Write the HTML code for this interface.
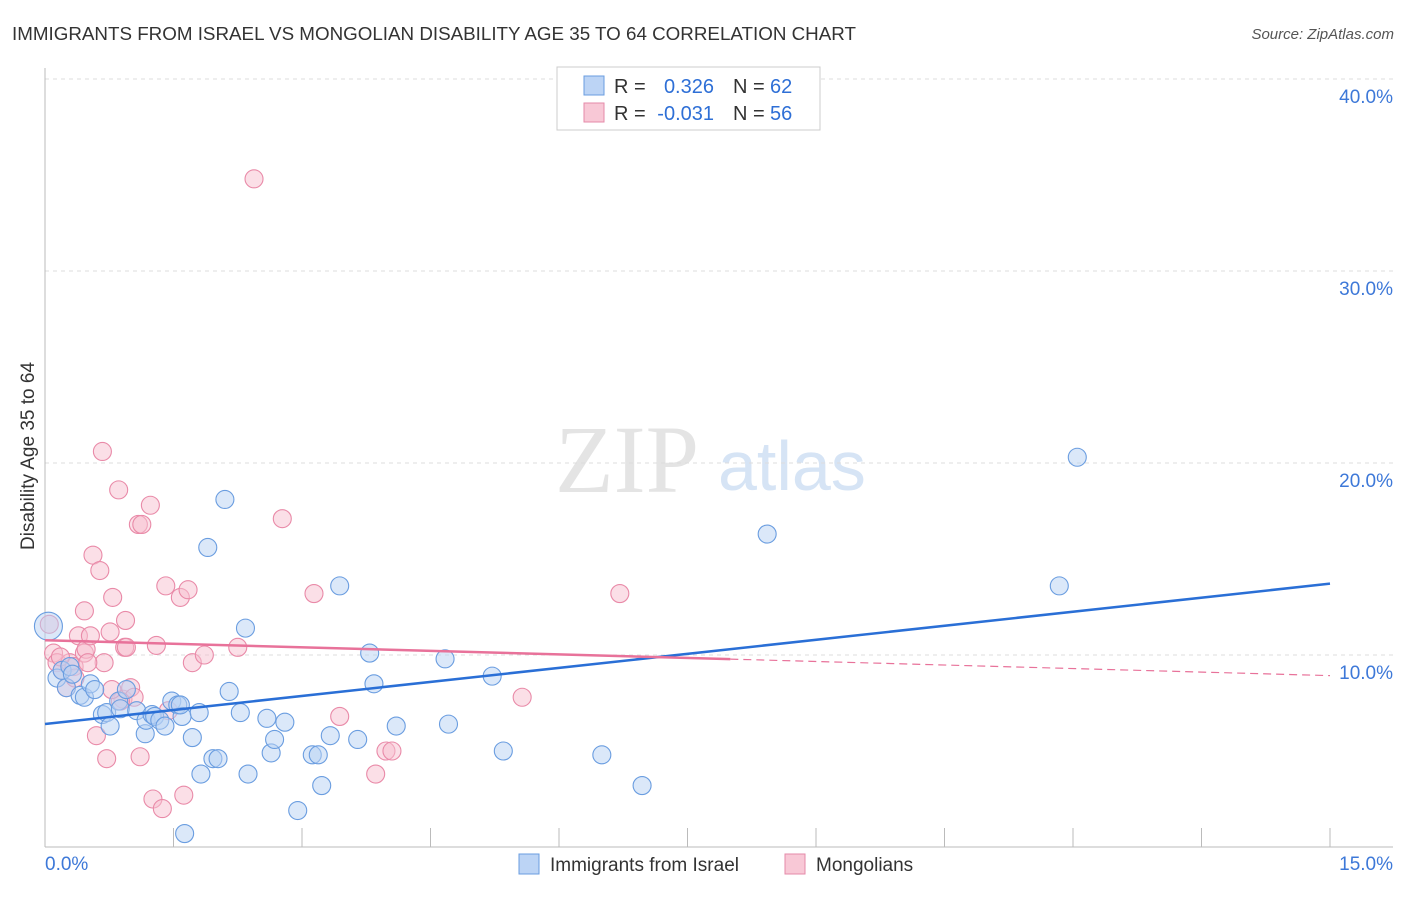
<!DOCTYPE html>
<html><head><meta charset="utf-8"><style>
body{margin:0;background:#fff;font-family:"Liberation Sans",sans-serif}
</style></head><body>
<svg id="c" width="1406" height="892" xmlns="http://www.w3.org/2000/svg">
<text x="12" y="40" font-size="18.8" fill="#333">IMMIGRANTS FROM ISRAEL VS MONGOLIAN DISABILITY AGE 35 TO 64 CORRELATION CHART</text>
<text x="1394" y="39" font-size="15" fill="#555" font-style="italic" text-anchor="end">Source: ZipAtlas.com</text>
<text x="0" y="0" transform="translate(34,456) rotate(-90)" font-size="19" fill="#333" text-anchor="middle">Disability Age 35 to 64</text>
<text x="555" y="492" font-size="96" fill="#e4e4e4" font-family="Liberation Serif,serif">ZIP</text>
<text x="718" y="490" font-size="70" fill="#d6e4f5">atlas</text>
<g id="grid"></g><g id="pts"></g><g id="lines"></g>
<g>
<rect x="557" y="67" width="263" height="63" fill="#fff" stroke="#ccc"/>
<rect x="584" y="76" width="20" height="19" fill="#bcd4f5" stroke="#6a9de0"/>
<text x="614" y="93" font-size="20" fill="#333">R =</text>
<text x="714" y="93" font-size="20" fill="#2e6fd6" text-anchor="end">0.326</text>
<text x="733" y="93" font-size="20" fill="#333">N =</text>
<text x="770" y="93" font-size="20" fill="#2e6fd6">62</text>
<rect x="584" y="103" width="20" height="19" fill="#f8c8d6" stroke="#e58aa8"/>
<text x="614" y="120" font-size="20" fill="#333">R =</text>
<text x="714" y="120" font-size="20" fill="#2e6fd6" text-anchor="end">-0.031</text>
<text x="733" y="120" font-size="20" fill="#333">N =</text>
<text x="770" y="120" font-size="20" fill="#2e6fd6">56</text>
</g>
<g>
<rect x="519" y="854" width="20" height="20" fill="#bcd4f5" stroke="#6a9de0"/>
<text x="550" y="871" font-size="19" fill="#333">Immigrants from Israel</text>
<rect x="785" y="854" width="20" height="20" fill="#f8c8d6" stroke="#e58aa8"/>
<text x="816" y="871" font-size="19" fill="#333">Mongolians</text>
</g>
</svg>
<script>
const yTicks=[10,20,30,40];
const xTickLabels=["0.0%","15.0%"];
const blueX=[0.04,0.14,0.2,0.25,0.29,0.32,0.41,0.46,0.53,0.58,0.67,0.72,0.76,0.86,0.88,0.95,1.07,1.17,1.18,1.25,1.28,1.34,1.4,1.48,1.55,1.6,1.72,1.8,1.82,1.9,1.96,2.02,2.1,2.15,2.28,2.34,2.37,2.59,2.64,2.68,2.8,2.95,3.12,3.19,3.23,3.33,3.44,3.65,3.79,3.84,4.1,4.67,4.71,5.22,5.35,6.5,6.97,8.43,11.84,12.05,1.63,1.58];
const blueY=[11.5,8.8,9.2,8.3,9.4,9.0,7.9,7.8,8.5,8.2,6.9,7.0,6.3,7.6,7.2,8.2,7.1,5.9,6.6,6.9,6.8,6.6,6.3,7.6,7.4,6.8,5.7,7.0,3.8,15.6,4.6,4.6,18.1,8.1,7.0,11.4,3.8,6.7,4.9,5.6,6.5,1.9,4.8,4.8,3.2,5.8,13.6,5.6,10.1,8.5,6.3,9.8,6.4,8.9,5.0,4.8,3.2,16.3,13.6,20.3,0.7,7.4];
const pinkX=[0.1,0.14,0.2,0.25,0.29,0.34,0.39,0.46,0.48,0.53,0.46,0.56,0.64,0.6,0.67,0.69,0.72,0.76,0.79,0.86,0.91,0.93,0.94,0.95,1.0,1.04,1.09,1.13,1.11,1.23,1.26,1.3,1.37,1.41,1.44,1.58,1.62,1.67,1.72,1.86,2.25,2.44,2.77,3.14,3.44,3.86,3.98,4.05,5.57,6.71,0.88,0.18,0.35,0.5,0.78,0.05];
const pinkY=[10.1,9.6,9.2,8.3,9.6,9.4,11.0,10.1,10.3,11.0,12.3,15.2,14.4,5.8,20.6,9.6,4.6,11.2,13.0,18.6,7.7,10.4,11.8,10.4,8.3,7.8,16.8,16.8,4.7,17.8,2.5,10.5,2.0,13.6,7.1,13.0,2.7,13.4,9.6,10.0,10.4,34.8,17.1,13.2,6.8,3.8,5.0,5.0,7.8,13.2,7.6,9.9,8.8,9.6,8.2,11.6];
const NS="http://www.w3.org/2000/svg";
const X=v=>45+v/15*1285, Y=v=>847-v*19.2;
function mk(t,a,p){const e=document.createElementNS(NS,t);for(const k in a)e.setAttribute(k,a[k]);document.getElementById(p).appendChild(e);return e;}
yTicks.forEach(t=>{
 const l=mk('line',{x1:45,x2:1393,y1:Y(t),y2:Y(t),stroke:'#ddd','stroke-dasharray':'4,4'},'grid');
 
 
 const tx=mk('text',{x:1393,y:Y(t)+24,'font-size':19,fill:'#3d78d8','text-anchor':'end'},'grid');tx.textContent=t.toFixed(1)+'%';
 
 
});
mk('line',{x1:45,x2:45,y1:68,y2:847,stroke:'#bbb'},'grid');
mk('line',{x1:45,x2:1393,y1:847,y2:847,stroke:'#bbb'},'grid');
for(let i=1;i<=10;i++){mk('line',{x1:X(i*1.5),x2:X(i*1.5),y1:828,y2:847,stroke:'#bbb'},'grid');}
const xl=mk('text',{x:45,y:870,'font-size':19,fill:'#3d78d8'},'grid');xl.textContent=xTickLabels[0];


const xr=mk('text',{x:1393,y:870,'font-size':19,fill:'#3d78d8','text-anchor':'end'},'grid');xr.textContent=xTickLabels[1];


function dots(xs,ys,fill,stroke,name){xs.forEach((x,i)=>{
 const r=i===0&&name==='blue-point'?14:9;
 const c=mk('circle',{cx:X(x),cy:Y(ys[i]),r:r,fill:fill,'fill-opacity':0.5,stroke:stroke,'stroke-width':1.1},'pts');
 
 
});}
dots(pinkX,pinkY,'#f8c0d0','#e98aa8','pink-point');
dots(blueX,blueY,'#b8d2f4','#6a9de0','blue-point');
function fit(xs,ys){const n=xs.length,mx=xs.reduce((a,b)=>a+b)/n,my=ys.reduce((a,b)=>a+b)/n;let sxy=0,sxx=0;xs.forEach((x,i)=>{sxy+=(x-mx)*(ys[i]-my);sxx+=(x-mx)**2});const b=sxy/sxx;return [my-b*mx,b];}
const bf=fit(blueX,blueY), pf=fit(pinkX,pinkY);
const bl=mk('line',{x1:X(0),y1:Y(bf[0]),x2:X(15),y2:Y(bf[0]+15*bf[1]),stroke:'#2a6fd6','stroke-width':2.5},'lines');


const pl=mk('line',{x1:X(0),y1:Y(pf[0]),x2:X(8),y2:Y(pf[0]+8*pf[1]),stroke:'#e8729a','stroke-width':2.5},'lines');


const pd=mk('line',{x1:X(8),y1:Y(pf[0]+8*pf[1]),x2:X(15),y2:Y(pf[0]+15*pf[1]),stroke:'#e8729a','stroke-width':1.2,'stroke-dasharray':'8,5'},'lines');


</script>
</body></html>
